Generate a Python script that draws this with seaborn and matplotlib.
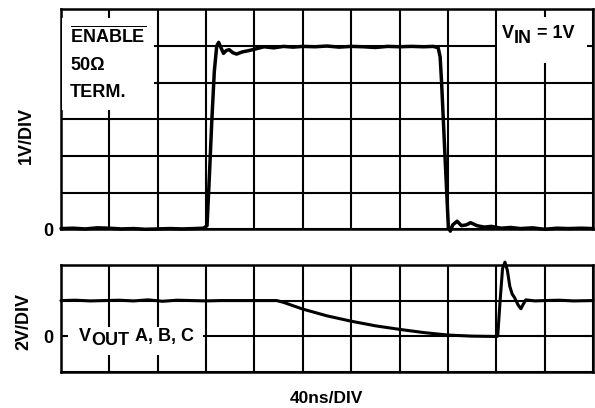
import pandas as pd
import seaborn as sns
import matplotlib.pyplot as plt
from matplotlib.patches import Rectangle

# 横轴单位：格 (40ns/DIV)，纵轴单位：格
# 上图：ENABLE 输入 (1V/DIV)
t_enable = [0.00, 0.25, 0.50, 0.75, 1.00, 1.25, 1.50, 1.75, 2.00, 2.25, 2.50, 2.75,
            2.95, 3.02, 3.07, 3.12, 3.17, 3.22, 3.26, 3.31, 3.36, 3.42, 3.48, 3.55,
            3.63, 3.75, 3.90, 4.05, 4.20, 4.40, 4.60, 4.80, 5.00, 5.25, 5.50, 5.75,
            6.00, 6.25, 6.50, 6.75, 7.00, 7.25, 7.50, 7.70, 7.80, 7.84, 7.87, 7.94,
            8.01, 8.05, 8.10, 8.19, 8.28, 8.38, 8.47, 8.60, 8.75, 8.90, 9.10, 9.30,
            9.50, 9.75, 10.00, 10.25, 10.50, 10.75, 11.00]
v_enable = [0.02, 0.03, 0.01, 0.04, 0.03, 0.01, 0.02, 0.00, 0.01, 0.02, 0.01, 0.02,
            0.03, 0.10, 1.50, 3.00, 4.30, 5.00, 5.10, 4.95, 4.80, 4.88, 4.90, 4.82,
            4.78, 4.84, 4.88, 4.93, 4.98, 4.95, 4.99, 4.97, 4.99, 4.98, 5.00, 4.97,
            4.99, 4.98, 4.96, 4.99, 4.98, 4.99, 4.98, 4.99, 4.95, 4.70, 4.00, 2.00,
            0.05, -0.05, 0.12, 0.22, 0.10, 0.12, 0.18, 0.10, 0.06, 0.08, 0.03, 0.05,
            0.02, 0.04, 0.00, 0.03, 0.02, 0.03, 0.02]

# 下图：VOUT A, B, C (2V/DIV)
t_out = [0.00, 0.30, 0.60, 0.90, 1.20, 1.50, 1.80, 2.10, 2.40, 2.70, 3.00, 3.30,
         3.60, 4.00, 4.30, 4.46, 4.60, 4.83, 5.00, 5.50, 6.00, 6.50, 7.00, 7.50,
         8.00, 8.50, 9.00, 9.03, 9.08, 9.13, 9.18, 9.23, 9.28, 9.33, 9.38, 9.45,
         9.51, 9.56, 9.61, 9.80, 10.00, 10.30, 10.60, 11.00]
v_out = [1.00, 1.01, 0.99, 1.00, 1.01, 0.99, 1.02, 0.98, 1.01, 1.00, 0.99, 1.00,
         1.00, 1.00, 1.00, 1.00, 0.95, 0.84, 0.76, 0.57, 0.42, 0.29, 0.19, 0.10,
         0.03, 0.00, -0.01, 0.00, 1.00, 1.90, 2.08, 1.85, 1.40, 1.18, 1.08, 0.88,
         0.77, 0.90, 1.02, 0.99, 1.00, 1.01, 0.99, 1.00]

x_divs = list(range(12))
y_divs_top = list(range(7))
y_divs_bot = [-1, 0, 1, 2]

sns.set_style('white')
plt.rcParams['font.family'] = ['Liberation Sans', 'DejaVu Sans']
plt.rcParams['font.weight'] = 'bold'
plt.rcParams['text.color'] = 'black'
plt.rcParams['axes.labelcolor'] = 'black'
plt.rcParams['ytick.color'] = 'black'
plt.rcParams['mathtext.fontset'] = 'custom'
for k in ['rm', 'bf', 'it', 'sf']:
    plt.rcParams['mathtext.' + k] = 'Liberation Sans:bold'

FS = 13

fig = plt.figure(figsize=(5.95, 4.08), dpi=100)
ax1 = fig.add_axes([0.1025, 0.438, 0.8941, 0.539])
ax2 = fig.add_axes([0.1025, 0.089, 0.8941, 0.2615])

df_top = pd.DataFrame({'t': t_enable, 'v': v_enable})
df_bot = pd.DataFrame({'t': t_out, 'v': v_out})
sns.lineplot(data=df_top, x='t', y='v', ax=ax1, color='black', linewidth=2.5,
             estimator=None, sort=False, clip_on=False)
sns.lineplot(data=df_bot, x='t', y='v', ax=ax2, color='black', linewidth=2.2,
             estimator=None, sort=False, clip_on=False)

for ax, yt in [(ax1, y_divs_top), (ax2, y_divs_bot)]:
    ax.set_xlim(0, 11)
    ax.set_ylim(yt[0], yt[-1])
    ax.set_xticks(x_divs)
    ax.set_yticks(yt)
    ax.set_xticklabels([])
    ax.set_yticklabels(['0' if v == 0 else '' for v in yt])
    ax.grid(True, color='black', linewidth=1.5)
    ax.tick_params(length=0, pad=5.5, labelsize=FS)
    for s in ax.spines.values():
        s.set_color('black')
        s.set_linewidth(1.8)
    ax.set_xlabel('')

ax1.set_ylabel('1V/DIV', fontsize=FS, fontweight='bold')
ax1.yaxis.set_label_coords(-0.050, 0.4286)
ax2.set_ylabel('2V/DIV', fontsize=FS, fontweight='bold')
ax2.yaxis.set_label_coords(-0.053, 0.469)
ax2.set_xlabel('40ns/DIV', fontsize=12.5, fontweight='bold')
ax2.xaxis.set_label_coords(0.499, -0.185)

# 左上角说明
ax1.text(0.017, 0.925, '$\\overline{\\mathrm{ENABLE}}$\n50Ω\nTERM.', transform=ax1.transAxes,
         ha='left', va='top', fontsize=FS, linespacing=1.8, zorder=3,
         bbox=dict(facecolor='white', edgecolor='none', boxstyle='square,pad=0.45'))

# 右上角 VIN = 1V（下标与正文同字号，仅下移），先铺白底
ax1.add_patch(Rectangle((0.8195, 0.756), 0.169, 0.209, transform=ax1.transAxes,
                        facecolor='white', edgecolor='none', zorder=2.8))
tv = ax1.text(0.829, 0.870, 'V', transform=ax1.transAxes, ha='left', va='baseline',
              fontsize=FS, zorder=3)
tin = ax1.annotate('IN', xy=(1, 0), xycoords=tv, xytext=(0, -3.6), textcoords='offset points',
                   ha='left', va='bottom', fontsize=FS, zorder=3)
ax1.annotate('= 1V', xy=(1, 0), xycoords=tin, xytext=(3.5, 3.6), textcoords='offset points',
             ha='left', va='bottom', fontsize=FS, zorder=3)

# 下图 VOUT A, B, C
ax2.add_patch(Rectangle((0.0132, 0.1565), 0.254, 0.2625, transform=ax2.transAxes,
                        facecolor='white', edgecolor='none', zorder=2.8))
tv2 = ax2.text(0.0338, 0.2905, 'V', transform=ax2.transAxes, ha='left', va='baseline',
               fontsize=FS, zorder=3)
tout = ax2.annotate('OUT', xy=(1, 0), xycoords=tv2, xytext=(0, -3.2), textcoords='offset points',
                    ha='left', va='bottom', fontsize=FS, zorder=3)
ax2.annotate('A, B, C', xy=(1, 0), xycoords=tout, xytext=(4, 3.2), textcoords='offset points',
             ha='left', va='bottom', fontsize=FS, zorder=3)

plt.savefig('out.png', dpi=100)
plt.close()
